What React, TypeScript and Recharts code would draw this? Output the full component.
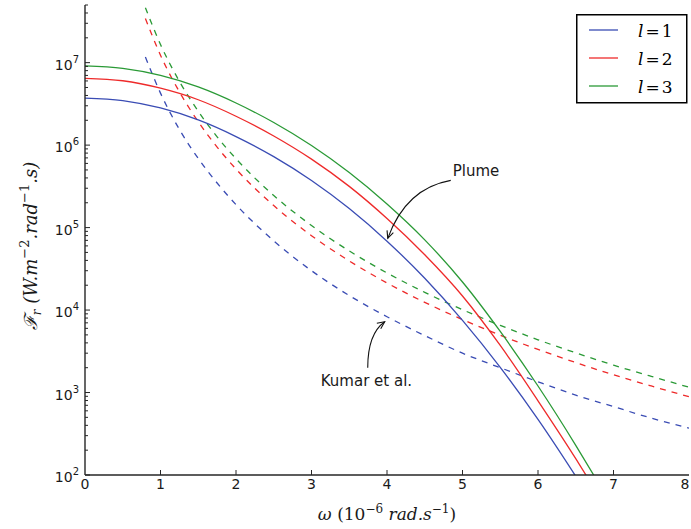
import React from 'react'
import { LineChart, Line, XAxis, YAxis, Legend, ReferenceDot } from 'recharts'

// omega (1e-6 rad/s) sample points
const plumeOmega = [0, 0.5, 1, 1.5, 2, 2.5, 3, 3.5, 4, 4.5, 5, 5.5, 6, 6.5, 6.75]
const kumarOmega = [0.8, 1, 1.25, 1.5, 1.75, 2, 2.5, 3, 3.5, 4, 4.5, 5, 5.5, 6, 6.5, 7, 7.5, 8]

// solid curves (Plume model)
const plumeL1 = [3.72e6, 3.47e6, 2.82e6, 2.02e6, 1.27e6, 7.24e5, 3.72e5, 1.7e5, 6.84e4, 2.43e4, 7.5e3, 2.02e3, 473, 96.6, 42.2]
const plumeL2 = [6.46e6, 6.03e6, 4.9e6, 3.55e6, 2.24e6, 1.29e6, 6.76e5, 3.16e5, 1.29e5, 4.68e4, 1.48e4, 3.72e3, 794, 158, 67.6]
const plumeL3 = [9.12e6, 8.51e6, 7.0e6, 5.07e6, 3.24e6, 1.88e6, 9.89e5, 4.65e5, 1.93e5, 7.1e4, 2.19e4, 5.5e3, 1.2e3, 229, 95.5]

// dashed curves (Kumar et al.)
const kumarL1 = [1.17e7, 4.27e6, 1.55e6, 6.9e5, 3.47e5, 1.9e5, 6.9e4, 3.0e4, 1.5e4, 8.3e3, 4.9e3, 3.0e3, 2.0e3, 1.35e3, 930, 675, 490, 370]
const kumarL2 = [3.42e7, 1.23e7, 4.43e6, 1.92e6, 9.46e5, 5.13e5, 1.85e5, 7.98e4, 3.94e4, 2.13e4, 1.24e4, 7.67e3, 4.95e3, 3.33e3, 2.31e3, 1.64e3, 1.2e3, 889]
const kumarL3 = [4.64e7, 1.66e7, 5.94e6, 2.57e6, 1.26e6, 6.84e5, 2.45e5, 1.06e5, 5.21e4, 2.82e4, 1.64e4, 1.01e4, 6.52e3, 4.36e3, 3.03e3, 2.15e3, 1.57e3, 1.16e3]

const degreeLabels = ['1', '2', '3']
const seriesColors = ['#3a4cb4', '#ee2a2a', '#2a9a36']

const xTicks = [0, 1, 2, 3, 4, 5, 6, 7, 8]
const yTicks = [
  100, 200, 300, 400, 500, 600, 700, 800, 900,
  1e3, 2e3, 3e3, 4e3, 5e3, 6e3, 7e3, 8e3, 9e3,
  1e4, 2e4, 3e4, 4e4, 5e4, 6e4, 7e4, 8e4, 9e4,
  1e5, 2e5, 3e5, 4e5, 5e5, 6e5, 7e5, 8e5, 9e5,
  1e6, 2e6, 3e6, 4e6, 5e6, 6e6, 7e6, 8e6, 9e6,
  1e7, 2e7, 3e7, 4e7, 5e7,
]

const plumeTip = { x: 4.01, y: 7.4e4 }
const kumarTip = { x: 3.97, y: 7.2e3 }

const frame = '#262626'
const textColor = '#1a1a1a'

const toPoints = (xs: number[], ys: number[]) => xs.map((x, i) => ({ x, y: ys[i] }))

const plumeSeries = [plumeL1, plumeL2, plumeL3].map((ys) => toPoints(plumeOmega, ys))
const kumarSeries = [kumarL1, kumarL2, kumarL3].map((ys) => toPoints(kumarOmega, ys))

const isDecade = (v: number) => {
  const l = Math.log10(v)
  return Math.abs(l - Math.round(l)) < 1e-9
}

function LeftTick(props: any) {
  const { x, y, payload } = props
  const axisX = x + 6
  const major = isDecade(payload.value)
  return (
    <g>
      <line x1={axisX} x2={axisX + (major ? 5 : 3)} y1={y} y2={y} stroke={frame} strokeWidth={1} />
      {major && (
        <text x={x} y={y + 7} textAnchor="end" fontSize={14} fontFamily="DejaVu Sans" fill={textColor}>
          10
          <tspan dy={-7} fontSize={10}>{Math.round(Math.log10(payload.value))}</tspan>
        </text>
      )}
    </g>
  )
}

function RightTick(props: any) {
  const { x, y, payload } = props
  const major = isDecade(payload.value)
  return <line x1={x} x2={x - (major ? 5 : 3)} y1={y} y2={y} stroke={frame} strokeWidth={1} />
}

function BottomTick(props: any) {
  const { x, y, payload } = props
  const axisY = y - 4
  const edge = payload.value === 0 || payload.value === 8
  // the last label sits on the page edge; nudge it in so it stays whole
  const nudge = payload.value === 8 ? -4 : 0
  return (
    <g>
      {!edge && <line x1={x} x2={x} y1={axisY} y2={axisY - 5} stroke={frame} strokeWidth={1} />}
      <text x={x + nudge} y={y} dy="0.71em" textAnchor="middle" fontSize={14} fontFamily="DejaVu Sans" fill={textColor}>
        {payload.value}
      </text>
    </g>
  )
}

function TopTick(props: any) {
  const { x, y, payload } = props
  if (payload.value === 0 || payload.value === 8) return <g />
  return <line x1={x} x2={x} y1={y} y2={y + 5} stroke={frame} strokeWidth={1} />
}

function XLabel(props: any) {
  const { x, y, width } = props.viewBox
  return (
    <text x={x + width / 2} y={y + 45} textAnchor="middle" fontSize={17} fontFamily="DejaVu Serif" fill={textColor}>
      <tspan fontStyle="italic">ω</tspan>
      <tspan> (10</tspan>
      <tspan dy={-7} fontSize={12}>−6</tspan>
      <tspan dy={7} fontStyle="italic"> rad.s</tspan>
      <tspan dy={-7} fontSize={12}>−1</tspan>
      <tspan dy={7}>)</tspan>
    </text>
  )
}

function YLabel(props: any) {
  const { y, height } = props.viewBox
  const cx = 37
  const cy = y + height / 2 + 6
  return (
    <text
      x={cx}
      y={cy}
      textAnchor="middle"
      transform={`rotate(-90, ${cx}, ${cy})`}
      fontSize={18}
      fontFamily="DejaVu Serif"
      fontStyle="italic"
      fill={textColor}
    >
      <tspan>ℱ</tspan>
      <tspan dy={4} fontSize={12}>r</tspan>
      <tspan dy={-4}>{'  (W.m'}</tspan>
      <tspan dy={-8} fontSize={13} fontStyle="normal">−2</tspan>
      <tspan dy={8}>.rad</tspan>
      <tspan dy={-8} fontSize={13} fontStyle="normal">−1</tspan>
      <tspan dy={8}>.s)</tspan>
    </text>
  )
}

function PlumeArrow(props: any) {
  const { cx, cy } = props
  return (
    <g fill="none" stroke="#111" strokeWidth={1.1}>
      <path d={`M${cx + 63},${cy - 58} Q${cx + 18},${cy - 50} ${cx},${cy}`} />
      <path d={`M${cx + 5.6},${cy - 5.7} L${cx},${cy} L${cx - 0.7},${cy - 8}`} />
      <text x={cx + 65} y={cy - 62} fontSize={15} fontFamily="DejaVu Sans" fill={textColor} stroke="none">
        Plume
      </text>
    </g>
  )
}

function KumarArrow(props: any) {
  const { cx, cy } = props
  return (
    <g fill="none" stroke="#111" strokeWidth={1.1}>
      <path d={`M${cx - 17},${cy + 46} Q${cx - 17},${cy + 12} ${cx},${cy}`} />
      <path d={`M${cx - 7.9},${cy + 1.4} L${cx},${cy} L${cx - 4},${cy + 7}`} />
      <text x={cx - 64} y={cy + 64} fontSize={15} fontFamily="DejaVu Sans" fill={textColor} stroke="none">
        Kumar et al.
      </text>
    </g>
  )
}

function LegendBox() {
  return (
    <svg width={112} height={90} style={{ display: 'block' }}>
      <rect x={0.75} y={0.75} width={110} height={88} fill="#fff" stroke="#000" strokeWidth={1.5} />
      {degreeLabels.map((d, i) => (
        <g key={d}>
          <line x1={13} x2={42} y1={16 + i * 28} y2={16 + i * 28} stroke={seriesColors[i]} strokeWidth={1.3} />
          <text x={62} y={23 + i * 28} fontSize={17} fontFamily="DejaVu Serif" fill="#000">
            <tspan fontStyle="italic">l</tspan>
            <tspan dx={2}>=</tspan>
            <tspan dx={2}>{d}</tspan>
          </text>
        </g>
      ))}
    </svg>
  )
}

export default function App() {
  return (
    <div style={{ position: 'absolute', left: 0, top: 0, width: 691, height: 529, background: '#fff' }}>
      <LineChart width={691} height={529} margin={{ top: 5, right: 2, bottom: 0, left: 0 }}>
        <XAxis
          xAxisId="b"
          dataKey="x"
          type="number"
          domain={[0, 8]}
          ticks={xTicks}
          interval={0}
          allowDataOverflow
          height={54}
          tickSize={0}
          tickMargin={4}
          tickLine={false}
          axisLine={{ stroke: frame, strokeWidth: 1.4 }}
          tick={BottomTick}
          label={XLabel}
        />
        <XAxis
          xAxisId="t"
          orientation="top"
          type="number"
          domain={[0, 8]}
          ticks={xTicks}
          interval={0}
          allowDataOverflow
          height={0}
          tickSize={0}
          tickMargin={0}
          tickLine={false}
          axisLine={{ stroke: frame, strokeWidth: 1.4 }}
          tick={TopTick}
        />
        <YAxis
          yAxisId="l"
          type="number"
          scale="log"
          domain={[100, 5e7]}
          ticks={yTicks}
          interval={0}
          allowDataOverflow
          width={85}
          tickSize={0}
          tickMargin={6}
          tickLine={false}
          axisLine={{ stroke: frame, strokeWidth: 1.4 }}
          tick={LeftTick}
          label={YLabel}
        />
        <YAxis
          yAxisId="r"
          orientation="right"
          type="number"
          scale="log"
          domain={[100, 5e7]}
          ticks={yTicks}
          interval={0}
          allowDataOverflow
          width={0}
          tickSize={0}
          tickMargin={0}
          tickLine={false}
          axisLine={{ stroke: frame, strokeWidth: 1.4 }}
          tick={RightTick}
        />
        {kumarSeries.map((pts, i) => (
          <Line
            key={`k${i}`}
            xAxisId="b"
            yAxisId="l"
            data={pts}
            dataKey="y"
            type="monotone"
            stroke={seriesColors[i]}
            strokeWidth={1.3}
            strokeDasharray="6 6"
            dot={false}
            legendType="none"
            isAnimationActive={false}
          />
        ))}
        {plumeSeries.map((pts, i) => (
          <Line
            key={`p${i}`}
            xAxisId="b"
            yAxisId="l"
            data={pts}
            dataKey="y"
            name={`l=${degreeLabels[i]}`}
            type="monotone"
            stroke={seriesColors[i]}
            strokeWidth={1.3}
            dot={false}
            isAnimationActive={false}
          />
        ))}
        <ReferenceDot xAxisId="b" yAxisId="l" x={plumeTip.x} y={plumeTip.y} r={0} ifOverflow="visible" shape={PlumeArrow} />
        <ReferenceDot xAxisId="b" yAxisId="l" x={kumarTip.x} y={kumarTip.y} r={0} ifOverflow="visible" shape={KumarArrow} />
        <Legend
          layout="vertical"
          align="center"
          verticalAlign="middle"
          wrapperStyle={{ left: 576, top: 14, width: 112, height: 90 }}
          content={LegendBox}
        />
      </LineChart>
    </div>
  )
}
